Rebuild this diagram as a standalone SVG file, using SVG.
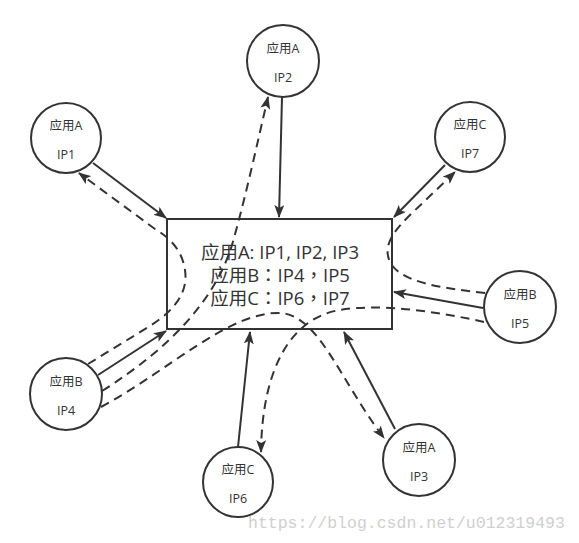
<svg xmlns="http://www.w3.org/2000/svg" width="579" height="543" viewBox="0 0 579 543">
<style>
.n{fill:#fff;stroke:#333;stroke-width:2}
.t{font-family:"Open Sans","Noto Sans CJK TC",sans-serif;font-size:12.5px;fill:#333;text-anchor:middle}
.b{font-family:"Open Sans","Noto Sans CJK TC",sans-serif;font-size:18.5px;fill:#333;text-anchor:middle}
.s{fill:none;stroke:#333;stroke-width:2}
.d{fill:none;stroke:#333;stroke-width:2;stroke-dasharray:9 6}
.w{font-family:"Liberation Mono",monospace;font-size:16.5px;fill:#cfcfcf}
</style>
<defs>
<marker id="ah" viewBox="0 0 13 10" refX="12" refY="5" markerWidth="13" markerHeight="10" markerUnits="userSpaceOnUse" orient="auto">
<path d="M0,0 L13,5 L0,10 L3,5 z" fill="#333"/>
</marker>
</defs>
<rect width="579" height="543" fill="#fff"/>
<g id="server">
<rect class="n" x="167" y="219" width="225" height="110"/>
<text class="b" x="280" y="259">应用A: IP1, IP2, IP3</text>
<text class="b" x="280" y="282">应用B：IP4，IP5</text>
<text class="b" x="280" y="305">应用C：IP6，IP7</text>
</g>
<g id="connectors">
<path class="s" d="M93,163 L166,218" marker-end="url(#ah)"/>
<path class="s" d="M282,97 L279,217" marker-end="url(#ah)"/>
<path class="s" d="M445,165 L394,217" marker-end="url(#ah)"/>
<path class="s" d="M483,308 L394,292" marker-end="url(#ah)"/>
<path class="s" d="M395,429 L344,332" marker-end="url(#ah)"/>
<path class="s" d="M238,447 L250,332" marker-end="url(#ah)"/>
<path class="s" d="M98,375 L166,331" marker-end="url(#ah)"/>
<path class="d" d="M88,364 L150,326 C178,308 188,290 185,270 C182,250 170,238 155,229 L79,173" marker-end="url(#ah)"/>
<path class="d" d="M102,391 C170,348 215,300 232,245 C245,200 258,140 268,97" marker-end="url(#ah)"/>
<path class="d" d="M101,407 C170,370 230,310 282,313 C320,318 340,380 384,438" marker-end="url(#ah)"/>
<path class="d" d="M485,293 C440,288 400,282 390,262 C382,245 395,230 410,215 L455,172" marker-end="url(#ah)"/>
<path class="d" d="M484,322 C440,312 380,303 340,310 C290,318 262,370 261,452" marker-end="url(#ah)"/>
</g>
<g id="ip1"><circle class="n" cx="66" cy="138" r="35"/><text class="t" x="66" y="130">应用A</text><text class="t" x="66" y="159">IP1</text></g>
<g id="ip2"><circle class="n" cx="283" cy="61" r="36"/><text class="t" x="283" y="53">应用A</text><text class="t" x="283" y="82">IP2</text></g>
<g id="ip7"><circle class="n" cx="470" cy="137" r="35"/><text class="t" x="470" y="129">应用C</text><text class="t" x="470" y="158">IP7</text></g>
<g id="ip5"><circle class="n" cx="520" cy="307" r="36"/><text class="t" x="520" y="299">应用B</text><text class="t" x="520" y="328">IP5</text></g>
<g id="ip4"><circle class="n" cx="66" cy="394" r="36"/><text class="t" x="66" y="386">应用B</text><text class="t" x="66" y="415">IP4</text></g>
<g id="ip6"><circle class="n" cx="238" cy="482" r="35"/><text class="t" x="238" y="474">应用C</text><text class="t" x="238" y="503">IP6</text></g>
<g id="ip3"><circle class="n" cx="419" cy="460" r="36"/><text class="t" x="419" y="452">应用A</text><text class="t" x="419" y="481">IP3</text></g>
<text class="w" x="248" y="528">https://blog.csdn.net/u012319493</text>
</svg>
